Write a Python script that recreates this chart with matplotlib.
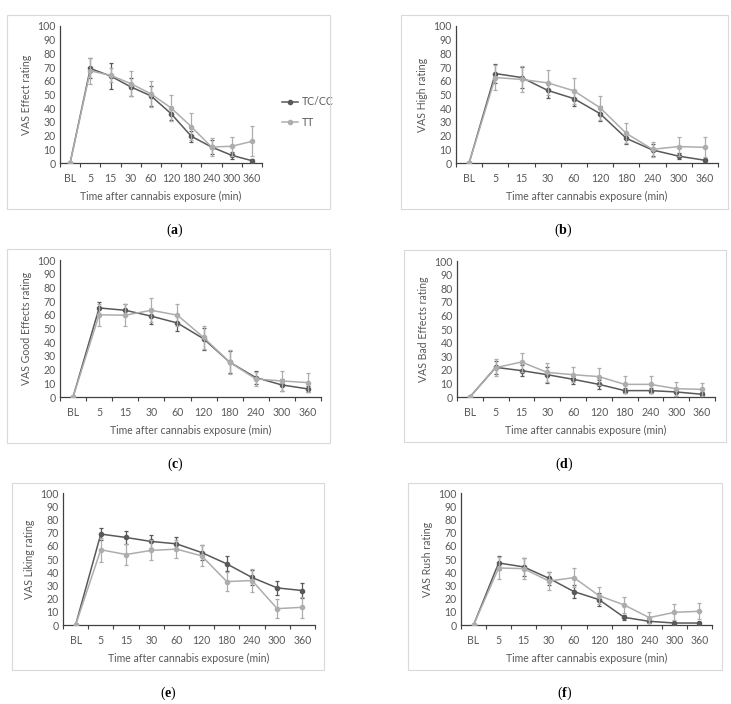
import numpy as np
import matplotlib
matplotlib.use("Agg")
import matplotlib.pyplot as plt
from matplotlib.patches import Rectangle

W, H = 731, 704

times = ["BL", "5", "15", "30", "60", "120", "180", "240", "300", "360"]
groups = ["TC/CC", "TT"]

# (a) VAS Effect
effect_tc = [0, 69, 63.5, 55.6, 49, 36, 19.5, 11.7, 5.6, 1.7]
effect_tc_err = [0, 7.3, 9.5, 6.8, 7.5, 4.8, 4, 5, 2.4, 1]
effect_tt = [0, 67.3, 64, 58, 50.5, 40.2, 26.5, 11.7, 12.2, 15.8]
effect_tt_err = [0, 9.7, 5, 9, 9.5, 9.3, 10, 6.5, 7, 11]

# (b) VAS High
high_tc = [0, 65.3, 62.4, 53, 47, 36, 18, 9.5, 5, 2]
high_tc_err = [0, 7, 7.5, 5.2, 5.3, 5.4, 4.2, 4.5, 2.3, 1]
high_tt = [0, 62.4, 61, 58.5, 52.7, 40.3, 21.6, 10, 12, 11.4]
high_tt_err = [0, 9, 9.5, 9.2, 9.3, 8.7, 7.3, 5.5, 7, 7.3]

# (c) VAS Good Effects
good_tc = [0, 65, 63.3, 59, 54, 42.5, 25.4, 14.2, 8.8, 5.9]
good_tc_err = [0, 4.5, 4.5, 5.5, 5.5, 8, 8, 4.5, 4.4, 2]
good_tt = [0, 60, 59.7, 63.3, 59.7, 43.5, 25.4, 13.2, 11.7, 10.5]
good_tt_err = [0, 8, 8, 8.7, 8, 8.5, 8.6, 5.4, 7, 7]

# (d) VAS Bad Effects
bad_tc = [0, 21.8, 19.4, 16.4, 13, 9.3, 4.7, 4.7, 3.7, 2]
bad_tc_err = [0, 5, 4, 6, 3.2, 3.2, 2, 2, 3.2, 1.5]
bad_tt = [0, 21.6, 25.7, 18.1, 16.4, 15, 9.3, 9.3, 6.1, 5.6]
bad_tt_err = [0, 6, 7, 7, 5.6, 6, 6, 6.4, 5, 5]

# (e) VAS Liking
liking_tc = [0, 68.9, 66.3, 63.3, 61.5, 54.9, 46.3, 36, 28.1, 26.1]
liking_tc_err = [0, 4.5, 4.6, 5, 5, 6, 5.7, 6, 5.6, 6]
liking_tt = [0, 57, 53.4, 56.5, 57.5, 52.4, 32.9, 33.7, 12.4, 13.4]
liking_tt_err = [0, 9, 8, 7.6, 7, 8, 7, 8.6, 7, 7.8]

# (f) VAS Rush
rush_tc = [0, 47, 44, 35.4, 25.3, 19.2, 5.8, 2.8, 1.5, 1.5]
rush_tc_err = [0, 5, 6.8, 5, 5, 5, 2, 1.5, 1, 1]
rush_tt = [0, 43.2, 42.7, 33.3, 35.9, 22.2, 15.2, 5.6, 9.6, 10.4]
rush_tt_err = [0, 8.4, 8, 7, 7, 6.6, 6, 4, 6, 6]

ylabels = ["VAS Effect rating", "VAS High rating", "VAS Good Effects rating",
           "VAS Bad Effects rating", "VAS Liking rating", "VAS Rush rating"]
letters = ["a", "b", "c", "d", "e", "f"]

series = [
    (effect_tc, effect_tc_err, effect_tt, effect_tt_err),
    (high_tc, high_tc_err, high_tt, high_tt_err),
    (good_tc, good_tc_err, good_tt, good_tt_err),
    (bad_tc, bad_tc_err, bad_tt, bad_tt_err),
    (liking_tc, liking_tc_err, liking_tt, liking_tt_err),
    (rush_tc, rush_tc_err, rush_tt, rush_tt_err),
]

# pixel layout: axes (left, right, top, bottom), frame box, label pos
axes_px = [(60, 262, 26, 163), (456, 718, 26, 163),
           (60, 321, 260, 397), (457, 715, 261, 397),
           (63, 315, 493, 625), (461, 712, 493, 625)]
frames_px = [(7, 330, 15, 209), (401, 728, 15, 209),
             (7, 330, 249, 443), (404, 726, 250, 442),
             (12, 324, 483, 670), (408, 722, 483, 670)]
label_px = [(175, 230), (563, 230), (175, 464), (564, 464), (168, 693), (565, 693)]

dark = "#595959"
light = "#ADADAD"
text_c = "#595959"
axis_c = "#404040"

plt.rcParams["font.family"] = ["Lato", "DejaVu Sans"]
plt.rcParams["mathtext.fontset"] = "custom"
plt.rcParams["mathtext.rm"] = "Liberation Serif"
plt.rcParams["mathtext.bf"] = "Liberation Serif:bold"

fig = plt.figure(figsize=(W / 100, H / 100), dpi=100)

x = np.arange(len(times))
fs = 7.6

for i in range(6):
    l, r, t, b = axes_px[i]
    ax = fig.add_axes([l / W, 1 - b / H, (r - l) / W, (b - t) / H])
    tc, tc_err, tt, tt_err = series[i]

    for vals, errs, col, name, z in [(tc, tc_err, dark, groups[0], 3),
                                     (tt, tt_err, light, groups[1], 4)]:
        ax.errorbar(x[1:], vals[1:], yerr=errs[1:], fmt="none", ecolor=col,
                    elinewidth=0.9, capsize=1.6, capthick=0.9, zorder=z)
        ax.plot(x, vals, color=col, lw=1.1, marker="o", ms=3.0,
                label=name, zorder=z + 0.5)

    ax.set_xlim(-0.5, len(times) - 0.5)
    ax.set_ylim(0, 100)
    ax.set_yticks(range(0, 101, 10))
    ax.set_xticks(x)
    ax.set_xticklabels(times)
    ax.set_xticks(np.arange(-0.5, len(times), 1), minor=True)
    ax.tick_params(axis="x", which="major", length=0, pad=7, labelsize=fs,
                   labelcolor=text_c)
    ax.tick_params(axis="x", which="minor", length=3, width=0.8, color=axis_c,
                   direction="out")
    ax.tick_params(axis="y", length=0, pad=3, labelsize=fs, labelcolor=text_c)
    for s in ["top", "right"]:
        ax.spines[s].set_visible(False)
    for s in ["left", "bottom"]:
        ax.spines[s].set_color(axis_c)
        ax.spines[s].set_linewidth(0.9)
    ax.set_facecolor("none")
    ax.set_ylabel(ylabels[i], fontsize=fs, color=text_c, labelpad=4)
    ax.set_xlabel("Time after cannabis exposure (min)", fontsize=fs,
                  color=text_c, labelpad=5)

    if i == 0:
        ax.legend(loc="center left", bbox_to_anchor=(272 / W, 1 - 112 / H),
                  bbox_transform=fig.transFigure, frameon=False, fontsize=fs,
                  labelcolor=text_c, handlelength=1.6, handletextpad=0.3,
                  labelspacing=0.9)

    fx0, fx1, fy0, fy1 = frames_px[i]
    fig.add_artist(Rectangle((fx0 / W, 1 - fy1 / H), (fx1 - fx0) / W,
                             (fy1 - fy0) / H, transform=fig.transFigure,
                             fill=False, ec="#D9D9D9", lw=0.8))

    lx, ly = label_px[i]
    fig.text(lx / W, 1 - ly / H, r"$\mathrm{(}\mathbf{" + letters[i] + r"}\mathrm{)}$",
             ha="center", va="center", fontsize=10, color="black")

fig.savefig("out.png", dpi=100, facecolor="white")
